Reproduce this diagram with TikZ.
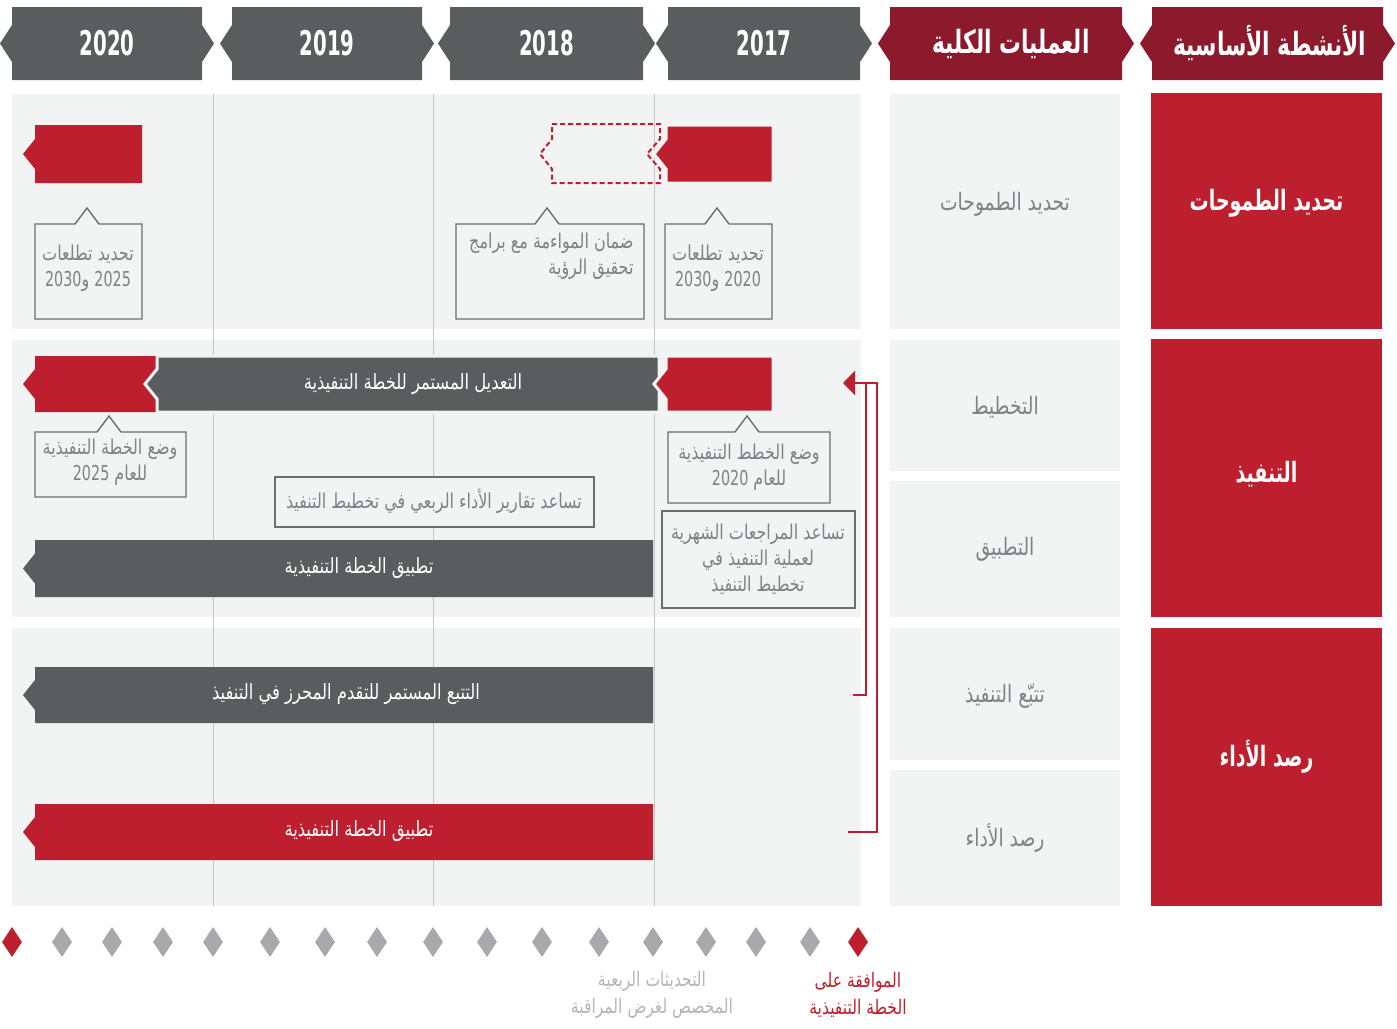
\documentclass[tikz,border=0pt]{standalone}
\usepackage{fontspec}
\setmainfont{DejaVu Sans}
\newfontfamily\arfont[Script=Arabic,FakeStretch=0.78]{DejaVu Sans}
\newfontfamily\arwide[Script=Arabic,FakeStretch=0.68]{DejaVu Sans}
\newfontfamily\ardig[FakeStretch=0.7]{DejaVu Sans}
\newfontfamily\numfont[FakeStretch=0.58]{DejaVu Sans}
\TeXXeTstate=1
\usetikzlibrary{arrows.meta,positioning,shapes.geometric}

\definecolor{hdgray}{HTML}{5A5D5E}
\definecolor{hdred}{HTML}{8C1A2C}
\definecolor{acred}{HTML}{BE1F2E}
\definecolor{panel}{HTML}{F2F3F3}
\definecolor{gridln}{HTML}{C5C7C9}
\definecolor{cbord}{HTML}{6D6E71}
\definecolor{ctext}{HTML}{7F8286}
\definecolor{qgray}{HTML}{A7A9AC}
\definecolor{lgray}{HTML}{B3B5B7}

\newcommand{\ar}[1]{\beginR #1\endR}
\newcommand{\dg}[1]{{\ardig #1}}
% header box, pointed on both sides (y 7..80)
\newcommand{\hexbox}[3]{%
  \fill[#1] (#2,7) -- (#3,7) -- (#3,25) -- ({#3+12},43.5) -- (#3,62) -- (#3,80)
    -- (#2,80) -- (#2,62) -- ({#2-12},43.5) -- (#2,25) -- cycle;}
% timeline bar pointing left
\newcommand{\ptbar}[5]{%
  \path[#1] (#2,#4) -- (#3,#4) -- (#3,#5) -- (#2,#5) -- (#2,{(#4+#5)/2+15})
    -- ({#2-12},{(#4+#5)/2}) -- (#2,{(#4+#5)/2-15}) -- cycle;}
% note box with a pointer on top
\newcommand{\callout}[5]{%
  \filldraw[callbox] (#5,{#3-16}) -- ({#5+12},#3) -- (#2,#3) -- (#2,#4) -- (#1,#4)
    -- (#1,#3) -- ({#5-12},#3) -- cycle;}

\begin{document}
\begin{tikzpicture}[
  x=1pt, y=-1pt,
  yearlbl/.style={text=white, font=\numfont\bfseries\fontsize{34}{34}\selectfont},
  hdlbl/.style={text=white, font=\arwide\bfseries\fontsize{32}{34}\selectfont},
  keycell/.style={rectangle, fill=acred, minimum width=231pt, inner sep=0pt},
  keylbl/.style={text=white, font=\arwide\bfseries\fontsize{28}{30}\selectfont},
  proccell/.style={rectangle, fill=panel, minimum width=230pt, inner sep=0pt},
  proclbl/.style={text=ctext, font=\arfont\fontsize{24}{26}\selectfont},
  bartext/.style={text=white, font=\arfont\fontsize{21}{24}\selectfont},
  calltext/.style={text=ctext, align=center, font=\arfont\fontsize{20.5}{26}\selectfont},
  callbox/.style={draw=cbord, fill=panel, line width=1.4pt},
  qmark/.style={diamond, fill=qgray, minimum width=20pt, minimum height=30pt, inner sep=0pt},
  fback/.style={draw=acred, line width=2.6pt},
  legend/.style={align=center, font=\arfont\fontsize{20}{27}\selectfont}
]
  \useasboundingbox (0,0) rectangle (1397,1028);

  % header row
  \hexbox{hdgray}{12}{202}
  \hexbox{hdgray}{232}{422}
  \hexbox{hdgray}{450}{643}
  \hexbox{hdgray}{668}{860}
  \hexbox{hdred}{890}{1122}
  \hexbox{hdred}{1152}{1383}
  \node[yearlbl] (y2020) at (107,43.5) {2020};
  \node[yearlbl] (y2019) at (327,43.5) {2019};
  \node[yearlbl] (y2018) at (546.5,43.5) {2018};
  \node[yearlbl] (y2017) at (764,43.5) {2017};
  \node[hdlbl] (hproc) at (1011,43.5) {\ar{العمليات الكلية}};
  \node[hdlbl] (hkey) at (1270,43.5) {\ar{الأنشطة الأساسية}};

  % key activities
  \node[keycell, minimum height=236pt] (kvision) at (1266.5,211) {};
  \node[keycell, minimum height=278pt] (kexec) at (1266.5,478) {};
  \node[keycell, minimum height=278pt] (kmon) at (1266.5,767) {};
  \node[keylbl] (kvisiont) at ([yshift=8pt]kvision.center) {\ar{تحديد الطموحات}};
  \node[keylbl] (kexect) at ([yshift=4pt]kexec.center) {\ar{التنفيذ}};
  \node[keylbl] (kmont) at ([yshift=10pt]kmon.center) {\ar{رصد الأداء}};

  % overall processes
  \node[proccell, minimum height=235pt] (pvision) at (1005,211.5) {};
  \node[proccell, minimum height=131pt] (pplan) at (1005,405.5) {};
  \node[proccell, minimum height=136pt] (papply) at (1005,549) {};
  \node[proccell, minimum height=132pt] (ptrack) at (1005,694) {};
  \node[proccell, minimum height=136pt] (pmon) at (1005,838) {};
  \node[proclbl] (pvisiont) at ([yshift=7pt]pvision.center) {\ar{تحديد الطموحات}};
  \node[proclbl] (pplant) at ([yshift=-2pt]pplan.center) {\ar{التخطيط}};
  \node[proclbl] (papplyt) at (papply.center) {\ar{التطبيق}};
  \node[proclbl] (ptrackt) at ([yshift=-2pt]ptrack.center) {\ar{تتبّع التنفيذ}};
  \node[proclbl] (pmont) at (pmon.center) {\ar{رصد الأداء}};

  % timeline panels and year lines
  \fill[panel] (12,94) rectangle (861,329);
  \fill[panel] (12,340) rectangle (861,617);
  \fill[panel] (12,628) rectangle (861,906);
  \foreach \gx in {213,433,654}
    \draw[gridln, line width=1pt] (\gx,94) -- (\gx,906);

  % row 1
  \ptbar{fill=acred}{35}{142}{125}{183}
  \draw[acred, line width=2pt, dash pattern=on 5pt off 3pt]
    (552,124) -- (660,124) -- (660,139) -- (647,154) -- (660,169) -- (660,183)
    -- (552,183) -- (552,169) -- (540,154) -- (552,139) -- cycle;
  \ptbar{fill=acred, draw=panel, line width=3pt}{666}{773}{125}{183}
  \callout{35}{142}{224}{319}{87}
  \callout{456}{644}{224}{319}{547}
  \callout{665}{772}{224}{319}{717}
  \node[calltext] (asp25) at (88,268) {\ar{تحديد تطلعات}\\\ar{\dg{2025} و\dg{2030}}};
  \node[calltext, align=right, anchor=north east] (align) at (637,229)
    {\ar{ضمان المواءمة مع برامج}\\\ar{تحقيق الرؤية}};
  \node[calltext] (asp20) at (718,268) {\ar{تحديد تطلعات}\\\ar{\dg{2020} و\dg{2030}}};

  % row 2
  \ptbar{fill=acred}{35}{160}{356}{412}
  \ptbar{fill=hdgray, draw=panel, line width=3pt}{157}{659}{356}{412}
  \ptbar{fill=acred, draw=panel, line width=3pt}{666}{773}{356}{412}
  \node[bartext] (adjust) at (413,384) {\ar{التعديل المستمر للخطة التنفيذية}};
  \callout{35}{186}{432}{497}{109}
  \node[calltext] (plan25) at (110,462) {\ar{وضع الخطة التنفيذية}\\\ar{للعام \dg{2025}}};
  \callout{668}{830}{432}{503}{747}
  \node[calltext] (plan20) at (749,467) {\ar{وضع الخطط التنفيذية}\\\ar{للعام \dg{2020}}};
  \filldraw[callbox] (275,477) rectangle (594,527);
  \node[calltext] (qrep) at (434,501) {\ar{تساعد تقارير الأداء الربعي في تخطيط التنفيذ}};
  \filldraw[callbox] (662,511) rectangle (855,608);
  \node[calltext] (mrev) at (758,559)
    {\ar{تساعد المراجعات الشهرية}\\\ar{لعملية التنفيذ في}\\\ar{تخطيط التنفيذ}};
  \ptbar{fill=hdgray}{35}{653}{540}{597}
  \node[bartext] (apply1) at (359,568) {\ar{تطبيق الخطة التنفيذية}};

  % row 3
  \ptbar{fill=hdgray}{35}{653}{667}{723}
  \node[bartext] (track) at (346,694) {\ar{التتبع المستمر للتقدم المحرز في التنفيذ}};
  \ptbar{fill=acred}{35}{653}{804}{860}
  \node[bartext] (apply2) at (359,831) {\ar{تطبيق الخطة التنفيذية}};

  % feedback bracket
  \coordinate (fbtip) at (843,383);
  \coordinate (fbtrack) at (853,695);
  \coordinate (fbmon) at (848,832);
  \draw[fback] (fbtrack) -| ([xshift=23pt]fbtip);
  \draw[fback, -{Triangle[length=12pt,width=24pt]}] (fbmon) -| ([xshift=34pt]fbtip) -- (fbtip);

  % quarterly milestones
  \foreach \qx [count=\qi] in {62,112,163,213,270,325,377,433,487,542,599,653,706,756,810}
    \node[qmark] (q\qi) at (\qx,942) {};
  \node[qmark, fill=acred] (qstart) at (12,942) {};
  \node[qmark, fill=acred] (qend) at (858,942) {};

  % legend
  \node[legend, text=lgray] (lgquart) at (652,995) {\ar{التحديثات الربعية}\\\ar{المخصص لغرض المراقبة}};
  \node[legend, text=acred] (lgappr) at (858,995) {\ar{الموافقة على}\\\ar{الخطة التنفيذية}};
\end{tikzpicture}
\end{document}
